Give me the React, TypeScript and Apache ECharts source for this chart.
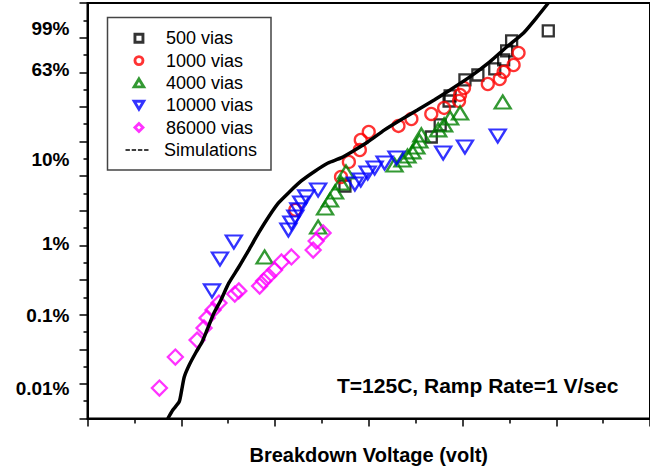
import { useEffect, useRef } from 'react';
import * as echarts from 'echarts';

const FONT = '"Liberation Sans", Arial, Helvetica, sans-serif';

// Series names / colours
const SERIES_NAMES = ['500 vias', '1000 vias', '4000 vias', '10000 vias', '86000 vias'];
const SERIES_COLORS = ['#000000', '#ff0000', '#008000', '#0000ff', '#ff00ff'];
const SIM_NAME = 'Simulations';

// Y-axis (probability scale) label positions in plot units and their texts
const Y_LABEL_POS = [22.55, 20.15, 14.95, 10.1, 5.95, 1.75];
const Y_LABEL_TEXT = ['99%', '63%', '10%', '1%', '0.1%', '0.01%'];

// Data: [breakdown voltage (axis units), probability (plot units)]
const VIAS_500 = [
  [4.915, 22.39], [4.524, 21.81], [4.471, 21.23], [4.439, 20.71], [4.344, 20.19],
  [4.164, 19.84], [4.026, 19.56], [3.868, 18.63], [3.857, 18.34], [3.762, 16.96],
  [3.667, 16.26], [2.746, 13.43],
];
const VIAS_1000 = [
  [4.598, 21.12], [4.545, 20.42], [4.439, 20.02], [4.397, 19.61], [4.27, 19.32],
  [4.016, 19.09], [3.974, 18.69], [3.963, 18.34], [3.804, 17.94], [3.667, 17.59],
  [3.455, 17.3], [3.317, 16.9], [3.0, 16.55], [2.915, 16.09], [2.905, 15.51],
  [2.788, 14.82], [2.704, 13.95], [2.217, 12.05],
];
const VIAS_4000 = [
  [1.889, 9.33], [2.46, 11.06], [2.534, 12.16], [2.587, 12.62], [2.64, 13.08],
  [2.704, 13.6], [2.757, 14.24], [3.275, 14.64], [3.36, 14.93], [3.413, 15.16],
  [3.466, 15.4], [3.508, 15.68], [3.54, 16.03], [3.561, 16.38], [3.741, 16.67],
  [3.804, 16.96], [3.868, 17.36], [3.974, 17.65], [4.429, 18.28],
];
const VIAS_10000 = [
  [1.328, 7.37], [1.413, 9.21], [1.561, 10.2], [2.143, 10.89], [2.175, 11.29],
  [2.217, 11.64], [2.249, 12.05], [2.28, 12.45], [2.333, 12.8], [2.46, 13.2],
  [2.852, 13.55], [2.915, 13.78], [2.989, 14.18], [3.063, 14.47], [3.169, 14.76],
  [3.296, 15.05], [3.794, 15.34], [4.026, 15.68], [4.376, 16.32],
];
const VIAS_86000 = [
  [0.767, 1.76], [0.937, 3.55], [1.169, 4.53], [1.243, 5.23], [1.275, 5.81],
  [1.339, 6.27], [1.402, 6.67], [1.571, 7.19], [1.614, 7.37], [1.836, 7.65],
  [1.878, 7.94], [1.931, 8.23], [1.995, 8.58], [2.069, 9.04], [2.175, 9.33],
  [2.407, 9.73], [2.439, 10.25], [2.513, 10.72],
];
const SIMULATION = [
  [0.857, 0.0], [0.91, 0.49], [0.979, 0.98], [1.005, 1.65], [1.032, 2.4],
  [1.085, 3.09], [1.159, 3.84], [1.222, 4.42], [1.275, 5.11], [1.349, 6.09],
  [1.423, 6.85], [1.508, 7.83], [1.614, 8.75], [1.72, 9.73], [1.825, 10.72],
  [1.931, 11.64], [2.037, 12.45], [2.143, 13.03], [2.28, 13.72], [2.429, 14.3],
  [2.566, 14.76], [2.704, 15.05], [2.852, 15.51], [2.989, 15.97], [3.169, 16.67],
  [3.339, 17.24], [3.519, 17.82], [3.698, 18.4], [3.868, 18.98], [4.079, 19.73],
  [4.291, 20.6], [4.471, 21.46], [4.651, 22.27], [4.788, 23.14], [4.915, 24.0],
];
const SERIES_DATA = [VIAS_500, VIAS_1000, VIAS_4000, VIAS_10000, VIAS_86000];

const SYMBOLS = ['rect', 'circle', 'triangle', 'triangle', 'diamond'];
const SYMBOL_SIZES: any[] = [11, 12, [16, 13], [16, 13], [15, 15]];
const SYMBOL_ROTATE = [0, 0, 0, 180, 0];
const LEGEND_ICONS = [
  'path://M0,0H10V10H0Z',
  'path://M5,0A5,5 0 1,1 5,10A5,5 0 1,1 5,0Z',
  'path://M6,0L12,10L0,10Z',
  'path://M0,0L12,0L6,10Z',
  'path://M5,0L10,5L5,10L0,5Z',
];
const DASH_ICON =
  'path://M0,0h4.4v1.5h-4.4z M6.2,0h4.4v1.5h-4.4z M12.4,0h4.4v1.5h-4.4z M18.6,0h4.4v1.5h-4.4z';

const ANNOTATION = 'T=125C, Ramp Rate=1 V/sec';

function buildOption(): any {
  const legendText = { fontSize: 18, fontFamily: FONT, color: '#000', lineHeight: 22 };
  const axisLine = { show: true, onZero: false, lineStyle: { color: '#000', width: 2 } };
  return {
    animation: false,
    backgroundColor: '#ffffff',
    grid: {
      left: 87.5,
      right: -4.5,
      top: 3,
      bottom: 53.5,
      show: true,
      borderColor: '#000',
      borderWidth: 2,
      backgroundColor: 'transparent',
    },
    xAxis: {
      type: 'value',
      min: 0,
      max: 6,
      interval: 1,
      name: 'Breakdown Voltage (volt)',
      nameLocation: 'middle',
      nameGap: 26,
      nameTextStyle: { fontSize: 20, fontWeight: 'bold', fontFamily: FONT, color: '#000' },
      axisLine,
      axisTick: { show: true, length: 8, lineStyle: { color: '#000', width: 1.5 } },
      minorTick: { show: true, splitNumber: 2, length: 5, lineStyle: { color: '#000', width: 1.5 } },
      axisLabel: { show: false },
      splitLine: { show: false },
      minorSplitLine: { show: false },
    },
    yAxis: {
      type: 'value',
      min: 0,
      max: 24,
      interval: 2,
      axisLine,
      axisTick: { show: true, length: 8, lineStyle: { color: '#000', width: 1.5 } },
      minorTick: { show: true, splitNumber: 2, length: 4, lineStyle: { color: '#000', width: 1.5 } },
      splitLine: { show: false },
      minorSplitLine: { show: false },
      axisLabel: {
        customValues: Y_LABEL_POS,
        formatter: (v: number) => {
          const i = Y_LABEL_POS.findIndex((p) => Math.abs(p - v) < 1e-6);
          return i >= 0 ? Y_LABEL_TEXT[i] : '';
        },
        fontSize: 19,
        fontWeight: 'bold',
        fontFamily: FONT,
        color: '#000',
        margin: 18,
      },
    },
    legend: [
      {
        orient: 'vertical',
        left: 132.7,
        top: 27.3,
        padding: 0,
        itemWidth: 44,
        itemHeight: 8,
        itemGap: 0.3,
        symbolKeepAspect: true,
        selectedMode: false,
        textStyle: legendText,
        data: SERIES_NAMES.map((n, i) => ({
          name: n,
          icon: LEGEND_ICONS[i],
          itemStyle: { color: 'rgba(0,0,0,0)', borderColor: SERIES_COLORS[i], borderWidth: 2.9 },
        })),
      },
      {
        orient: 'vertical',
        left: 125.5,
        top: 139,
        padding: 0,
        itemWidth: 44,
        itemHeight: 1.5,
        symbolKeepAspect: true,
        selectedMode: false,
        textStyle: legendText,
        data: [{ name: SIM_NAME, icon: DASH_ICON, itemStyle: { color: '#000', borderWidth: 0 } }],
      },
    ],
    graphic: [
      {
        type: 'rect',
        z: 1,
        shape: { x: 107.5, y: 17.5, width: 163.5, height: 152.5 },
        style: { fill: 'rgba(0,0,0,0)', stroke: '#444', lineWidth: 1.5 },
      },
      {
        type: 'text',
        z: 10,
        x: 337,
        y: 385.7,
        style: {
          text: ANNOTATION,
          font: `bold 21px ${FONT}`,
          fill: '#000',
          align: 'left',
          verticalAlign: 'middle',
          textAlign: 'left',
          textVerticalAlign: 'middle',
        },
      },
    ],
    series: [
      ...SERIES_NAMES.map((n, i) => ({
        type: 'scatter',
        name: n,
        data: SERIES_DATA[i],
        symbol: SYMBOLS[i],
        symbolSize: SYMBOL_SIZES[i],
        symbolRotate: SYMBOL_ROTATE[i],
        itemStyle: { color: 'rgba(0,0,0,0)', borderColor: SERIES_COLORS[i], borderWidth: 2.3 },
        emphasis: { disabled: true },
        z: 2,
      })),
      {
        type: 'line',
        name: SIM_NAME,
        data: SIMULATION,
        symbol: 'none',
        showSymbol: false,
        smooth: 0.2,
        lineStyle: { color: '#000', width: 3.5 },
        itemStyle: { color: '#000' },
        emphasis: { disabled: true },
        z: 3,
      },
    ],
  };
}

export default function App() {
  const ref = useRef<HTMLDivElement>(null);
  useEffect(() => {
    if (!ref.current) return;
    const chart = echarts.init(ref.current, null, { renderer: 'svg' });
    chart.setOption(buildOption());
    return () => chart.dispose();
  }, []);
  return (
    <div
      ref={ref}
      style={{ position: 'fixed', left: 0, top: 0, width: 650, height: 472, background: '#fff' }}
    />
  );
}
